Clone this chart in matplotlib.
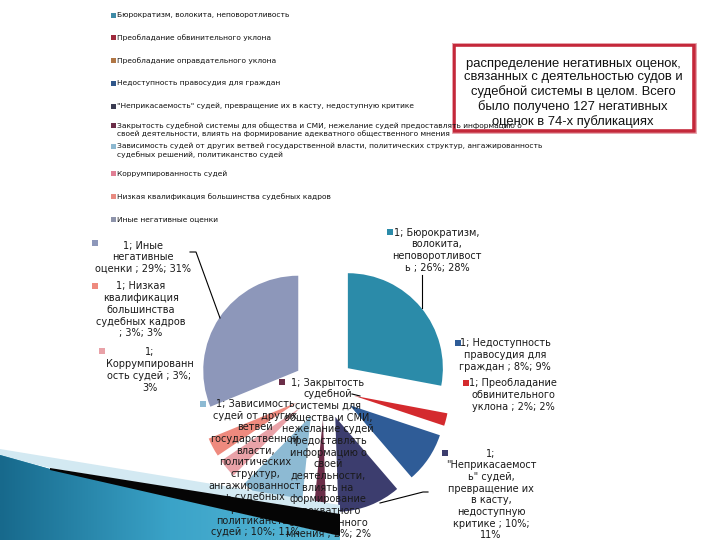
import matplotlib
matplotlib.use("Agg")
import matplotlib.pyplot as plt
import numpy as np
from matplotlib.patches import Rectangle, Polygon

# ---------------- data ----------------
categories = [
    "Бюрократизм, волокита, неповоротливость",
    "Преобладание обвинительного уклона",
    "Преобладание оправдательного уклона",
    "Недоступность правосудия для граждан",
    "\"Неприкасаемость\" судей, превращение их в касту, недоступную критике",
    "Закрытость судебной системы для общества и СМИ, нежелание судей предоставлять информацию о\nсвоей деятельности, влиять на формирование адекватного общественного мнения",
    "Зависимость судей от других ветвей государственной власти, политических структур, ангажированность\nсудебных решений, политиканство судей",
    "Коррумпированность судей",
    "Низкая квалификация большинства судебных кадров",
    "Иные негативные оценки",
]
values = [26, 2, 0, 8, 10, 2, 10, 3, 3, 29]
value_pct = ["26%", "2%", "0%", "8%", "10%", "2%", "10%", "3%", "3%", "29%"]
share_pct = ["28%", "2%", "0%", "9%", "11%", "2%", "11%", "3%", "3%", "31%"]
series_name = "1"

slice_colors = ["#2b8ba9", "#d42a2e", "#b57a45", "#2f5c97", "#3c3d6e",
                "#6b2e48", "#8dbad3", "#e9a2a8", "#ee8a7e", "#8d97ba"]
legend_colors = ["#3f8aa6", "#9e2a3c", "#b07645", "#2f568a", "#3b3c52",
                 "#6b2e48", "#8db8d0", "#e07f94", "#e88a80", "#8d93aa"]

# data label texts (wrapped as in the reference)
label_texts = {
    0: "1; Бюрократизм,\nволокита,\nнеповоротливост\nь ; 26%; 28%",
    1: "1; Преобладание\nобвинительного\nуклона ; 2%; 2%",
    3: "1; Недоступность\nправосудия для\nграждан ; 8%; 9%",
    4: "1;\n\"Неприкасаемост\nь\" судей,\nпревращение их\nв касту,\nнедоступную\nкритике ; 10%;\n11%",
    5: "1; Закрытость\nсудебной\nсистемы для\nобщества и СМИ,\nнежелание судей\nпредоставлять\nинформацию о\nсвоей\nдеятельности,\nвлиять на\nформирование\nадекватного\nобщественного\nмнения ; 2%; 2%",
    6: "1; Зависимость\nсудей от других\nветвей\nгосударственной\nвласти,\nполитических\nструктур,\nангажированност\nь судебных\nрешений,\nполитиканство\nсудей ; 10%; 11%",
    7: "1;\nКоррумпированн\nость судей ; 3%;\n3%",
    8: "1; Низкая\nквалификация\nбольшинства\nсудебных кадров\n; 3%; 3%",
    9: "1; Иные\nнегативные\nоценки ; 29%; 31%",
}

box_text = ("распределение негативных оценок,\nсвязанных с деятельностью судов и\n"
            "судебной системы в целом. Всего\nбыло получено 127 негативных\n"
            "оценок в 74-х публикациях")

# ---------------- figure ----------------
fig = plt.figure(figsize=(7.2, 5.4), dpi=100)
ax = fig.add_axes([0, 0, 1, 1])

wedges, _ = ax.pie(values, colors=slice_colors, startangle=270, counterclock=True,
                   radius=95, center=(324, 388), explode=[31] * len(values),
                   wedgeprops=dict(linewidth=0))
ax.set_xlim(0, 720)
ax.set_ylim(540, 0)
ax.set_aspect("auto")
ax.axis("off")

# ---------------- legend (manual) ----------------
leg_y = [15, 37.5, 60.5, 83.5, 106, 125, 146, 173.5, 196.5, 219.5]
for i, (cat, y) in enumerate(zip(categories, leg_y)):
    ax.add_patch(Rectangle((110.5, y - 2.5), 5, 5, color=legend_colors[i], lw=0, zorder=6))
    ax.text(117, y - 3.3, cat, fontsize=5.4, va="top", ha="left",
            color="#111111", linespacing=1.3, zorder=6, family="DejaVu Sans")

# ---------------- data labels ----------------
# (center x, first line center y, marker x, marker y)
label_pos = {
    0: (437, 232, 390, 232),
    1: (513, 383, 465.5, 383),
    3: (505, 343, 457.5, 343),
    4: (491, 453, 445, 453),
    5: (328, 382, 282, 382),
    6: (255, 403.5, 202.5, 403.5),
    7: (149.5, 352, 102, 351),
    8: (141, 286, 95, 286),
    9: (143, 245, 95, 243),
}
for i, txt in label_texts.items():
    cx, cy, mx, my = label_pos[i]
    ax.text(cx, cy - 4.5, txt, fontsize=7, ha="center", va="top",
            multialignment="center", color="#1a1a1a", linespacing=1.21, zorder=3,
            family="DejaVu Sans")
    ax.add_patch(Rectangle((mx - 3, my - 3), 6, 6, color=slice_colors[i], lw=0, zorder=3))

# leader lines
lk = dict(color="black", lw=0.8, zorder=2)
ax.plot([190, 196, 220], [252, 252, 318], **lk)
ax.plot([422, 422], [275, 308], **lk)
ax.plot([380, 423, 428], [503, 492, 492], **lk)
ax.plot([352, 360], [394, 396], **lk)

# ---------------- red text box ----------------
ax.add_patch(Rectangle((454, 45), 240, 86, fill=False, ec="#c4283a", lw=2.6, zorder=4))
ax.add_patch(Rectangle((452, 43), 244, 90, fill=False, ec="#e7a5ad", lw=0.7, zorder=4))
ax.text(573, 57.5, box_text, fontsize=9.4, ha="center", va="top", multialignment="center",
        linespacing=1.19, family="Liberation Sans", color="#111111", zorder=4)

# ---------------- decoration bottom-left ----------------
light = Polygon([(0, 449), (340, 505), (340, 516), (50, 468), (0, 456)], closed=True,
                color="#d3e9f2", lw=0, zorder=2.5)
ax.add_patch(light)
teal = Polygon([(0, 455), (50, 469), (340, 536), (340, 540), (0, 540)], closed=True,
               color="#2a8db0", lw=0, zorder=2.5)
ax.add_patch(teal)
grad = np.linspace(0, 1, 256).reshape(1, -1)
im = ax.imshow(grad, extent=(0, 340, 540, 449), cmap=matplotlib.colors.LinearSegmentedColormap.from_list(
    "t", ["#17698c", "#3aa3c8", "#5bb9d8"]), aspect="auto", zorder=2.6)
im.set_clip_path(teal)
black = Polygon([(50, 468), (340, 514), (340, 536), (50, 470)], closed=True,
                color="#050505", lw=0, zorder=5.2)
ax.add_patch(black)
ax.set_xlim(0, 720)
ax.set_ylim(540, 0)

fig.savefig("out.png", dpi=100)
